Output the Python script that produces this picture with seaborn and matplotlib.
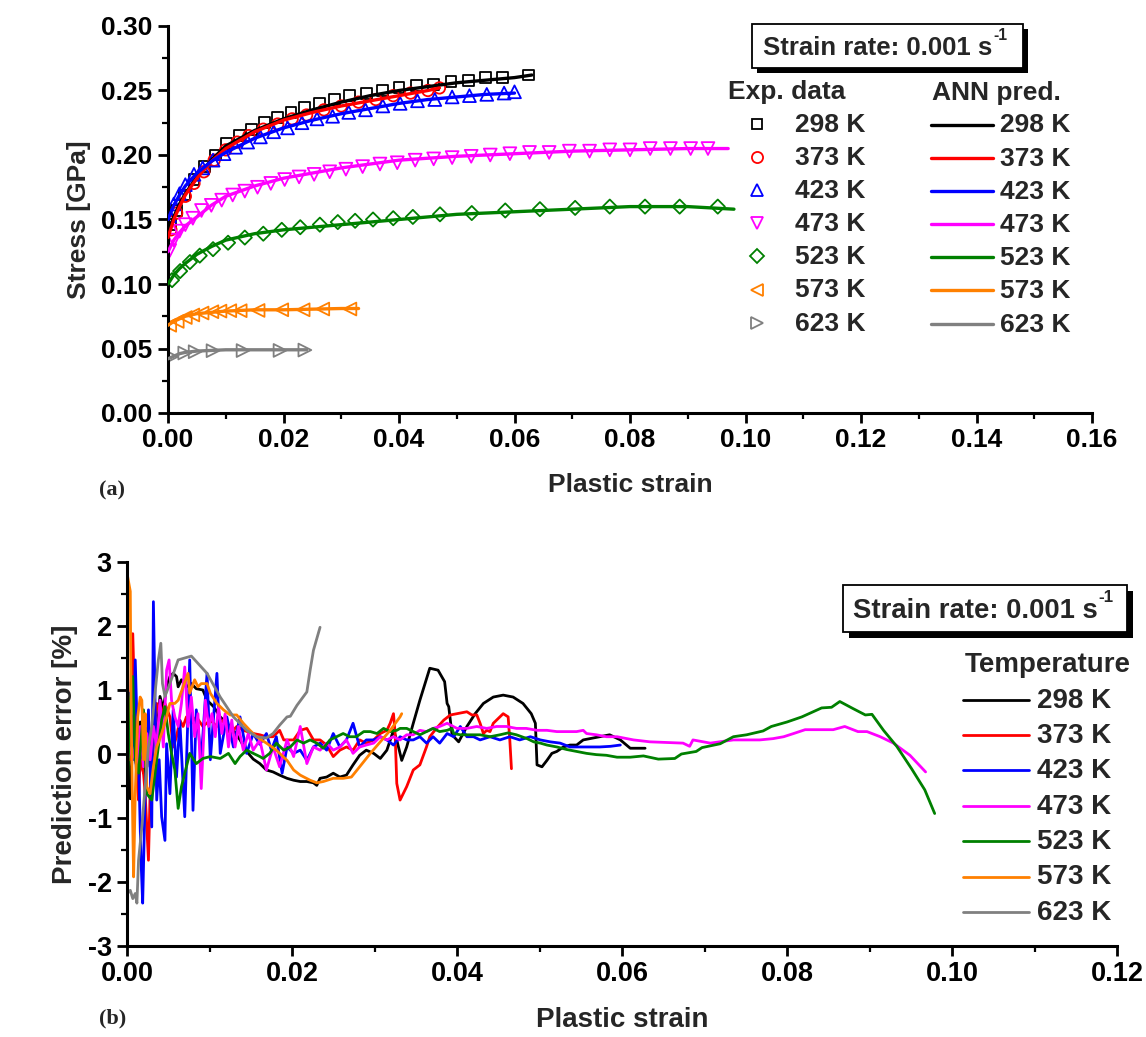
import matplotlib
matplotlib.use("Agg")
import matplotlib.pyplot as plt
import numpy as np
import pandas as pd
import seaborn as sns
from matplotlib.lines import Line2D
from matplotlib.patches import Rectangle
from matplotlib.text import Annotation
from matplotlib.ticker import MultipleLocator, FormatStrFormatter

# ---------------------------------------------------------------- data
temperatures = ["298 K", "373 K", "423 K", "473 K", "523 K", "573 K", "623 K"]
colors = ["#000000", "#FF0000", "#0000FF", "#FF00FF", "#008000", "#FF8000", "#808080"]
exp_markers = ["s", "o", "^", "v", "D", "<", ">"]

# experimental flow curves (plastic strain, stress in GPa)
exp_strain_298 = [0.0005, 0.0015, 0.0028, 0.0045, 0.0063, 0.0082, 0.0102, 0.0123, 0.0145, 0.0167, 0.0190, 0.0213,
                  0.0237, 0.0262, 0.0288, 0.0315, 0.0343, 0.0372, 0.0400, 0.0430, 0.0460, 0.0490, 0.0520, 0.0550,
                  0.0580, 0.0625]
exp_stress_298 = [0.146, 0.157, 0.169, 0.181, 0.191, 0.200, 0.209, 0.215, 0.220, 0.225, 0.229, 0.233,
                  0.237, 0.240, 0.243, 0.246, 0.248, 0.250, 0.252, 0.254, 0.255, 0.257, 0.258, 0.260,
                  0.260, 0.262]
exp_strain_373 = [0.0005, 0.0015, 0.0030, 0.0045, 0.0062, 0.0080, 0.0100, 0.0120, 0.0140, 0.0165, 0.0190, 0.0215,
                  0.0240, 0.0270, 0.0300, 0.0330, 0.0360, 0.0390, 0.0420, 0.0450, 0.0470]
exp_stress_373 = [0.142, 0.155, 0.168, 0.178, 0.187, 0.196, 0.204, 0.210, 0.215, 0.220, 0.224, 0.228,
                  0.231, 0.235, 0.238, 0.241, 0.243, 0.246, 0.248, 0.250, 0.252]
exp_strain_423 = [0.0003, 0.0010, 0.0020, 0.0030, 0.0045, 0.0060, 0.0078, 0.0097, 0.0117, 0.0138, 0.0160, 0.0183,
                  0.0207, 0.0232, 0.0258, 0.0285, 0.0313, 0.0342, 0.0372, 0.0402, 0.0432, 0.0462, 0.0492, 0.0522,
                  0.0552, 0.0582, 0.0600]
exp_stress_423 = [0.153, 0.162, 0.170, 0.177, 0.185, 0.190, 0.196, 0.201, 0.206, 0.210, 0.214, 0.218,
                  0.221, 0.225, 0.228, 0.230, 0.233, 0.235, 0.238, 0.240, 0.242, 0.243, 0.245, 0.246,
                  0.247, 0.248, 0.249]
exp_strain_473 = [0.0003, 0.0010, 0.0020, 0.0030, 0.0043, 0.0058, 0.0075, 0.0093, 0.0112, 0.0133, 0.0155, 0.0178,
                  0.0202, 0.0227, 0.0253, 0.0280, 0.0308, 0.0337, 0.0367, 0.0397, 0.0428, 0.0460, 0.0492, 0.0525,
                  0.0558, 0.0592, 0.0626, 0.0660, 0.0695, 0.0730, 0.0765, 0.0800, 0.0835, 0.0870, 0.0905, 0.0935]
exp_stress_473 = [0.126, 0.134, 0.141, 0.146, 0.151, 0.157, 0.161, 0.165, 0.169, 0.172, 0.175, 0.178,
                  0.181, 0.183, 0.185, 0.187, 0.189, 0.191, 0.193, 0.194, 0.196, 0.197, 0.198, 0.199,
                  0.200, 0.201, 0.202, 0.202, 0.203, 0.203, 0.204, 0.204, 0.205, 0.205, 0.205, 0.205]
exp_strain_523 = [0.0007, 0.0021, 0.0038, 0.0055, 0.0078, 0.0104, 0.0133, 0.0165, 0.0197, 0.0229, 0.0263, 0.0294,
                  0.0324, 0.0355, 0.0390, 0.0424, 0.0471, 0.0526, 0.0584, 0.0644, 0.0705, 0.0765, 0.0826, 0.0886,
                  0.0952]
exp_stress_523 = [0.103, 0.110, 0.117, 0.122, 0.127, 0.132, 0.136, 0.139, 0.142, 0.144, 0.146, 0.148,
                  0.149, 0.150, 0.151, 0.152, 0.154, 0.155, 0.157, 0.158, 0.159, 0.160, 0.160, 0.160,
                  0.160]
exp_strain_573 = [0.0003, 0.0016, 0.0030, 0.0043, 0.0059, 0.0076, 0.0090, 0.0107, 0.0125, 0.0156, 0.0197, 0.0234,
                  0.0268, 0.0315]
exp_stress_573 = [0.068, 0.071, 0.074, 0.076, 0.0775, 0.0785, 0.079, 0.0793, 0.0793, 0.0795, 0.080, 0.080,
                  0.0806, 0.0806]
exp_strain_623 = [0.0006, 0.0029, 0.0047, 0.0078, 0.0130, 0.0194, 0.0237]
exp_stress_623 = [0.0436, 0.0465, 0.0475, 0.0483, 0.0484, 0.0485, 0.0488]

# ANN predicted flow curves
ann_strain_298 = [0, 0.001, 0.002, 0.003, 0.005, 0.0075, 0.01, 0.015, 0.02, 0.025, 0.03, 0.035, 0.04, 0.045,
                  0.05, 0.055, 0.06, 0.063]
ann_stress_298 = [0.140, 0.152, 0.162, 0.170, 0.183, 0.196, 0.207, 0.219, 0.228, 0.235, 0.241, 0.246, 0.250, 0.253,
                  0.256, 0.258, 0.260, 0.262]
ann_strain_373 = [0, 0.001, 0.002, 0.003, 0.005, 0.0075, 0.01, 0.015, 0.02, 0.025, 0.03, 0.035, 0.04, 0.045, 0.047]
ann_stress_373 = [0.136, 0.150, 0.160, 0.169, 0.182, 0.195, 0.205, 0.218, 0.227, 0.233, 0.238, 0.242, 0.246, 0.250,
                  0.252]
ann_strain_423 = [0, 0.001, 0.002, 0.003, 0.005, 0.0075, 0.01, 0.015, 0.02, 0.025, 0.03, 0.035, 0.04, 0.045, 0.05,
                  0.055, 0.06]
ann_stress_423 = [0.150, 0.161, 0.169, 0.176, 0.186, 0.195, 0.202, 0.213, 0.221, 0.227, 0.232, 0.236, 0.240, 0.243,
                  0.245, 0.247, 0.248]
ann_strain_473 = [0, 0.001, 0.002, 0.003, 0.005, 0.0075, 0.01, 0.015, 0.02, 0.025, 0.03, 0.04, 0.05, 0.06, 0.07,
                  0.08, 0.09, 0.097]
ann_stress_473 = [0.125, 0.134, 0.140, 0.145, 0.152, 0.161, 0.168, 0.176, 0.182, 0.186, 0.190, 0.196, 0.199, 0.201,
                  0.203, 0.204, 0.205, 0.205]
ann_strain_523 = [0, 0.001, 0.002, 0.003, 0.005, 0.0075, 0.01, 0.015, 0.02, 0.03, 0.04, 0.05, 0.06, 0.07, 0.08,
                  0.09, 0.098]
ann_stress_523 = [0.100, 0.107, 0.112, 0.116, 0.123, 0.129, 0.134, 0.139, 0.142, 0.146, 0.150, 0.154, 0.156, 0.158,
                  0.160, 0.160, 0.158]
ann_strain_573 = [0, 0.001, 0.002, 0.003, 0.005, 0.0075, 0.01, 0.015, 0.02, 0.025, 0.03, 0.033]
ann_stress_573 = [0.068, 0.071, 0.073, 0.075, 0.077, 0.078, 0.079, 0.080, 0.080, 0.0805, 0.081, 0.081]
ann_strain_623 = [0, 0.001, 0.002, 0.003, 0.005, 0.0075, 0.01, 0.015, 0.02, 0.024]
ann_stress_623 = [0.042, 0.044, 0.046, 0.047, 0.048, 0.0485, 0.049, 0.049, 0.049, 0.049]

# prediction error (plastic strain, error in %)
error_298 = [(0.00004, 0.30), (0.0004, -0.70), (0.0008, 0.60), (0.0012, -0.40), (0.0016, 0.50), (0.0020, -0.30),
             (0.0024, 0.40), (0.0028, -0.20), (0.0032, 0.60), (0.0036, 0.30), (0.0040, 0.90), (0.0044, 0.70),
             (0.0048, 1.05), (0.0052, 1.21), (0.0056, 1.26), (0.0060, 1.21), (0.0062, 1.05), (0.0066, 1.16),
             (0.0072, 1.05), (0.0078, 1.10), (0.0084, 1.02), (0.0092, 1.00), (0.0097, 0.84), (0.0105, 0.74),
             (0.0113, 0.58), (0.0121, 0.48), (0.0129, 0.37), (0.0137, 0.22), (0.0145, 0.04), (0.0153, -0.08),
             (0.0161, -0.15), (0.0169, -0.25), (0.0177, -0.28), (0.0185, -0.33), (0.0194, -0.38), (0.0202, -0.41),
             (0.0210, -0.43), (0.0218, -0.43), (0.0226, -0.45), (0.0230, -0.49), (0.0234, -0.38), (0.0242, -0.36),
             (0.0250, -0.30), (0.0258, -0.36), (0.0266, -0.33), (0.0274, -0.17), (0.0282, -0.02), (0.0290, 0.06),
             (0.0299, 0.01), (0.0307, -0.07), (0.0315, 0.06), (0.0323, 0.37), (0.0327, 0.22), (0.0333, -0.10),
             (0.0339, 0.11), (0.0347, 0.48), (0.0355, 0.84), (0.0367, 1.34), (0.0377, 1.31), (0.0385, 1.13),
             (0.0388, 0.79), (0.0390, 0.74), (0.0394, 0.30), (0.0402, 0.19), (0.0412, 0.43), (0.0422, 0.63),
             (0.0432, 0.79), (0.0444, 0.89), (0.0456, 0.92), (0.0468, 0.89), (0.0480, 0.79), (0.0490, 0.63),
             (0.0495, 0.48), (0.0497, -0.17), (0.0503, -0.20), (0.0509, -0.10), (0.0515, 0.01), (0.0521, 0.04),
             (0.0529, 0.11), (0.0537, 0.14), (0.0545, 0.14), (0.0553, 0.22), (0.0561, 0.24), (0.0573, 0.27),
             (0.0585, 0.30), (0.0598, 0.22), (0.0610, 0.09), (0.0614, 0.09), (0.0628, 0.09)]
error_373 = [(0.00004, 1.47), (0.00036, -0.09), (0.0007, 1.88), (0.0010, 0.43), (0.0012, -0.36), (0.0014, -0.72),
             (0.0016, -0.09), (0.0020, -0.30), (0.0022, -0.62), (0.0026, -1.66), (0.0028, -0.62), (0.0032, 0.22),
             (0.0036, 0.79), (0.0042, 0.58), (0.0046, 0.79), (0.0052, 0.58), (0.0056, 0.11), (0.0060, 0.27),
             (0.0064, 0.53), (0.0068, 0.43), (0.0072, 0.58), (0.0078, 0.48), (0.0084, 0.58), (0.0092, 0.43),
             (0.0101, 0.53), (0.0109, 0.43), (0.0117, 0.53), (0.0125, 0.32), (0.0133, 0.43), (0.0141, 0.37),
             (0.0153, 0.32), (0.0161, 0.30), (0.0169, 0.27), (0.0177, 0.27), (0.0185, 0.37), (0.0190, 0.22),
             (0.0194, 0.22), (0.0202, 0.22), (0.0210, 0.37), (0.0218, 0.40), (0.0226, 0.22), (0.0234, 0.22),
             (0.0242, 0.14), (0.0250, -0.04), (0.0258, 0.06), (0.0266, 0.11), (0.0274, 0.06), (0.0282, 0.22),
             (0.0290, 0.17), (0.0299, 0.22), (0.0307, 0.32), (0.0315, 0.37), (0.0319, 0.48), (0.0323, 0.63),
             (0.0325, 0.32), (0.0327, -0.46), (0.0331, -0.72), (0.0339, -0.51), (0.0347, -0.25), (0.0355, -0.17),
             (0.0363, 0.11), (0.0367, 0.27), (0.0375, 0.40), (0.0384, 0.53), (0.0392, 0.61), (0.0400, 0.63),
             (0.0412, 0.66), (0.0418, 0.61), (0.0424, 0.61), (0.0428, 0.48), (0.0432, 0.32), (0.0436, 0.37),
             (0.0440, 0.35), (0.0444, 0.48), (0.0448, 0.53), (0.0456, 0.63), (0.0462, 0.58), (0.0464, 0.22),
             (0.0466, -0.23)]
error_423 = [(0.00004, 0.16), (0.00036, 0.95), (0.0007, -0.09), (0.0010, 1.47), (0.0012, 0.53), (0.0014, -0.09),
             (0.0017, -1.66), (0.0019, -2.33), (0.0022, -0.62), (0.0026, 0.69), (0.0030, -1.14), (0.0032, 2.38),
             (0.0036, -0.72), (0.0039, -0.09), (0.0042, -0.98), (0.0046, -1.35), (0.0048, 0.16), (0.0052, -0.62),
             (0.0056, 0.69), (0.0060, -0.36), (0.0064, 0.53), (0.0070, -0.98), (0.0076, 1.47), (0.0080, -0.88),
             (0.0084, 0.69), (0.0090, -0.09), (0.0097, 1.26), (0.0101, -0.09), (0.0109, 1.26), (0.0113, 0.01),
             (0.0121, 0.58), (0.0129, 0.11), (0.0137, 0.58), (0.0145, 0.01), (0.0153, 0.32), (0.0161, 0.15),
             (0.0169, 0.32), (0.0175, 0.06), (0.0181, 0.27), (0.0188, -0.30), (0.0194, 0.11), (0.0202, 0.01),
             (0.0210, 0.06), (0.0218, -0.10), (0.0226, 0.11), (0.0234, 0.17), (0.0242, 0.06), (0.0250, 0.32),
             (0.0258, 0.11), (0.0266, 0.22), (0.0274, 0.48), (0.0282, 0.11), (0.0290, 0.22), (0.0299, 0.22),
             (0.0307, 0.27), (0.0315, 0.22), (0.0323, 0.14), (0.0331, 0.27), (0.0339, 0.22), (0.0347, 0.22),
             (0.0355, 0.27), (0.0363, 0.17), (0.0371, 0.27), (0.0379, 0.17), (0.0388, 0.32), (0.0396, 0.27),
             (0.0404, 0.43), (0.0412, 0.27), (0.0420, 0.27), (0.0428, 0.22), (0.0440, 0.27), (0.0452, 0.22),
             (0.0464, 0.27), (0.0476, 0.22), (0.0489, 0.27), (0.0501, 0.22), (0.0513, 0.19), (0.0525, 0.17),
             (0.0537, 0.11), (0.0549, 0.11), (0.0561, 0.11), (0.0573, 0.11), (0.0586, 0.12), (0.0598, 0.14)]
error_473 = [(0.00004, -0.09), (0.0006, 0.11), (0.0012, -0.20), (0.0016, 0.43), (0.0020, -0.20), (0.0024, 0.32),
             (0.0028, -0.09), (0.0032, 0.43), (0.0036, 0.11), (0.0040, 0.84), (0.0044, 0.11), (0.0048, 1.31),
             (0.0051, 1.47), (0.0054, 0.84), (0.0058, 0.58), (0.0062, 0.43), (0.0066, 0.79), (0.0070, 1.36),
             (0.0074, 0.43), (0.0078, 0.89), (0.0082, 0.27), (0.0086, 0.63), (0.0090, -0.54), (0.0095, 0.84),
             (0.0099, 0.43), (0.0103, 0.63), (0.0107, 0.27), (0.0111, 0.74), (0.0115, 0.32), (0.0119, 0.63),
             (0.0123, 0.11), (0.0127, 0.53), (0.0131, 0.11), (0.0135, 0.43), (0.0141, 0.06), (0.0147, 0.32),
             (0.0153, 0.06), (0.0161, 0.22), (0.0169, -0.25), (0.0177, 0.11), (0.0185, -0.20), (0.0194, 0.22),
             (0.0202, -0.04), (0.0210, 0.43), (0.0218, -0.15), (0.0226, 0.11), (0.0234, 0.06), (0.0242, 0.17),
             (0.0250, 0.06), (0.0258, 0.11), (0.0266, 0.22), (0.0274, 0.01), (0.0282, 0.11), (0.0290, 0.14),
             (0.0299, 0.17), (0.0307, 0.27), (0.0315, 0.22), (0.0323, 0.27), (0.0331, 0.22), (0.0339, 0.30),
             (0.0347, 0.30), (0.0355, 0.37), (0.0363, 0.35), (0.0371, 0.40), (0.0379, 0.43), (0.0388, 0.48),
             (0.0400, 0.40), (0.0412, 0.40), (0.0424, 0.43), (0.0436, 0.40), (0.0448, 0.43), (0.0460, 0.43),
             (0.0472, 0.40), (0.0484, 0.40), (0.0497, 0.37), (0.0509, 0.37), (0.0521, 0.35), (0.0533, 0.35),
             (0.0545, 0.35), (0.0553, 0.37), (0.0557, 0.32), (0.0569, 0.30), (0.0581, 0.27), (0.0594, 0.27),
             (0.0606, 0.24), (0.0614, 0.22), (0.0634, 0.19), (0.0654, 0.18), (0.0674, 0.17), (0.0682, 0.12),
             (0.0686, 0.22), (0.0707, 0.17), (0.0735, 0.22), (0.0767, 0.22), (0.0783, 0.24), (0.0796, 0.27),
             (0.0808, 0.32), (0.0822, 0.38), (0.0836, 0.38), (0.0856, 0.38), (0.0870, 0.43), (0.0886, 0.35),
             (0.0897, 0.35), (0.0913, 0.27), (0.0929, 0.17), (0.0949, -0.02), (0.0968, -0.28)]
error_523 = [(0.00004, -0.56), (0.0004, 0.84), (0.0007, 1.21), (0.0010, -0.09), (0.0014, -0.30), (0.0020, 0.69),
             (0.0024, -0.62), (0.0030, -0.72), (0.0036, -0.09), (0.0042, 0.53), (0.0046, 0.74), (0.0050, 0.32),
             (0.0054, 0.01), (0.0058, -0.25), (0.0062, -0.85), (0.0066, -0.51), (0.0072, -0.20), (0.0076, 0.01),
             (0.0084, -0.15), (0.0092, -0.07), (0.0101, -0.04), (0.0113, -0.07), (0.0123, 0.01), (0.0131, -0.15),
             (0.0137, -0.04), (0.0145, 0.06), (0.0153, 0.01), (0.0161, -0.04), (0.0165, -0.07), (0.0173, 0.01),
             (0.0181, 0.17), (0.0190, 0.06), (0.0198, 0.11), (0.0206, 0.22), (0.0214, 0.17), (0.0222, 0.22),
             (0.0230, 0.17), (0.0238, 0.09), (0.0246, 0.22), (0.0254, 0.27), (0.0262, 0.32), (0.0270, 0.27),
             (0.0278, 0.27), (0.0287, 0.35), (0.0295, 0.35), (0.0303, 0.32), (0.0311, 0.40), (0.0319, 0.35),
             (0.0327, 0.37), (0.0331, 0.40), (0.0339, 0.40), (0.0347, 0.35), (0.0355, 0.30), (0.0363, 0.35),
             (0.0371, 0.40), (0.0379, 0.35), (0.0388, 0.37), (0.0394, 0.40), (0.0396, 0.32), (0.0404, 0.30),
             (0.0416, 0.30), (0.0428, 0.30), (0.0440, 0.27), (0.0452, 0.30), (0.0462, 0.33), (0.0472, 0.30),
             (0.0485, 0.24), (0.0493, 0.19), (0.0501, 0.17), (0.0509, 0.14), (0.0521, 0.11), (0.0533, 0.07),
             (0.0545, 0.04), (0.0557, 0.01), (0.0569, -0.01), (0.0581, -0.02), (0.0594, -0.05), (0.0610, -0.05),
             (0.0626, -0.03), (0.0644, -0.08), (0.0664, -0.07), (0.0672, 0.00), (0.0690, 0.04), (0.0697, 0.10),
             (0.0719, 0.16), (0.0735, 0.27), (0.0751, 0.30), (0.0771, 0.36), (0.0781, 0.43), (0.0800, 0.50),
             (0.0818, 0.58), (0.0842, 0.72), (0.0854, 0.73), (0.0864, 0.82), (0.0880, 0.71), (0.0895, 0.61),
             (0.0903, 0.62), (0.0917, 0.37), (0.0933, 0.12), (0.0951, -0.23), (0.0967, -0.56), (0.0979, -0.93)]
error_573 = [(0.00004, 2.80), (0.0004, 2.54), (0.0005, 0.69), (0.0007, -1.14), (0.0008, -1.92), (0.0010, -0.62),
             (0.0013, 0.58), (0.0016, 0.89), (0.0018, 0.84), (0.0020, -0.09), (0.0022, 0.63), (0.0024, -0.51),
             (0.0028, -0.62), (0.0032, -0.20), (0.0036, 0.11), (0.0042, 0.32), (0.0048, 0.58), (0.0052, 0.79),
             (0.0058, 0.79), (0.0062, 0.84), (0.0068, 1.05), (0.0074, 1.26), (0.0076, 0.95), (0.0082, 1.16),
             (0.0086, 1.05), (0.0090, 1.10), (0.0097, 1.10), (0.0101, 0.95), (0.0109, 0.79), (0.0117, 0.69),
             (0.0125, 0.61), (0.0133, 0.61), (0.0141, 0.48), (0.0149, 0.37), (0.0157, 0.27), (0.0169, 0.17),
             (0.0181, 0.06), (0.0194, -0.10), (0.0202, -0.25), (0.0210, -0.33), (0.0222, -0.41), (0.0230, -0.45),
             (0.0238, -0.43), (0.0250, -0.38), (0.0262, -0.38), (0.0272, -0.36), (0.0282, -0.20), (0.0295, 0.01),
             (0.0307, 0.19), (0.0319, 0.37), (0.0331, 0.58), (0.0333, 0.63)]
error_623 = [(0.00004, -2.18), (0.0004, -2.13), (0.0007, -2.26), (0.0010, -2.18), (0.0012, -2.33), (0.0014, -1.66),
             (0.0018, -1.14), (0.0022, -0.51), (0.0026, 0.11), (0.0030, 0.43), (0.0034, 0.95), (0.0038, 1.47),
             (0.0041, 1.73), (0.0043, 1.10), (0.0046, 0.90), (0.0052, 1.10), (0.0062, 1.47), (0.0078, 1.53),
             (0.0097, 1.26), (0.0113, 0.89), (0.0129, 0.58), (0.0145, 0.37), (0.0157, 0.27), (0.0169, 0.25),
             (0.0177, 0.32), (0.0185, 0.45), (0.0194, 0.58), (0.0198, 0.59), (0.0206, 0.76), (0.0218, 0.97),
             (0.0222, 1.31), (0.0226, 1.62), (0.0234, 1.98)]

exp_strain = [exp_strain_298, exp_strain_373, exp_strain_423, exp_strain_473, exp_strain_523, exp_strain_573, exp_strain_623]
exp_stress = [exp_stress_298, exp_stress_373, exp_stress_423, exp_stress_473, exp_stress_523, exp_stress_573, exp_stress_623]
ann_strain = [ann_strain_298, ann_strain_373, ann_strain_423, ann_strain_473, ann_strain_523, ann_strain_573, ann_strain_623]
ann_stress = [ann_stress_298, ann_stress_373, ann_stress_423, ann_stress_473, ann_stress_523, ann_stress_573, ann_stress_623]
errors = [error_298, error_373, error_423, error_473, error_523, error_573, error_623]

# ---------------------------------------------------------------- tables
ann_df = pd.concat([pd.DataFrame({"strain": s, "stress": y, "T": t})
                    for s, y, t in zip(ann_strain, ann_stress, temperatures)], ignore_index=True)
err_df = pd.concat([pd.DataFrame({"strain": [p[0] for p in e], "error": [p[1] for p in e], "T": t})
                    for e, t in zip(errors, temperatures)], ignore_index=True)
palette = dict(zip(temperatures, colors))

# ---------------------------------------------------------------- style
sns.set_theme(style="ticks")
plt.rcParams["font.family"] = ["Liberation Sans", "DejaVu Sans"]
plt.rcParams["font.weight"] = "bold"
plt.rcParams["axes.unicode_minus"] = False
plt.rcParams["axes.linewidth"] = 2.2

W, H = 1146, 1037
fig = plt.figure(figsize=(W / 100, H / 100), dpi=100)


def fx(px):
    return px / W


def fy(py):
    return 1 - py / H


ax1 = fig.add_axes([fx(168), fy(413), (1092 - 168) / W, (413 - 26) / H])
ax2 = fig.add_axes([fx(127), fy(946), (1117 - 127) / W, (946 - 562) / H])

# ---------------------------------------------------------------- (a) stress-strain
sizes = {"s": 62, "o": 68, "^": 85, "v": 85, "D": 52, "<": 85, ">": 85}
for s, y, t, c, m in zip(exp_strain, exp_stress, temperatures, colors, exp_markers):
    sns.scatterplot(x=s, y=y, ax=ax1, marker=m, s=sizes[m], color=c, facecolor="none",
                    edgecolor=c, linewidth=1.3, zorder=2)
sns.lineplot(data=ann_df, x="strain", y="stress", hue="T", palette=palette, sort=False,
             estimator=None, linewidth=2.4, legend=False, ax=ax1, zorder=3)

ax1.set_xlim(0, 0.16)
ax1.set_ylim(0, 0.30)
ax1.xaxis.set_major_locator(MultipleLocator(0.02))
ax1.xaxis.set_minor_locator(MultipleLocator(0.01))
ax1.yaxis.set_major_locator(MultipleLocator(0.05))
ax1.yaxis.set_minor_locator(MultipleLocator(0.025))
ax1.xaxis.set_major_formatter(FormatStrFormatter("%.2f"))
ax1.yaxis.set_major_formatter(FormatStrFormatter("%.2f"))
ax1.set_xlabel("Plastic strain", fontsize=19, fontweight="bold")
ax1.set_ylabel("Stress [GPa]", fontsize=19, fontweight="bold")
ax1.xaxis.set_label_coords(0.5, -0.155)
ax1.yaxis.set_label_coords(-0.083, 0.5)

# ---------------------------------------------------------------- (b) prediction error
sns.lineplot(data=err_df, x="strain", y="error", hue="T", palette=palette, sort=False,
             estimator=None, linewidth=2.0, legend=False, ax=ax2)
ax2.set_xlim(0, 0.12)
ax2.set_ylim(-3, 3)
ax2.xaxis.set_major_locator(MultipleLocator(0.02))
ax2.xaxis.set_minor_locator(MultipleLocator(0.01))
ax2.yaxis.set_major_locator(MultipleLocator(1))
ax2.yaxis.set_minor_locator(MultipleLocator(0.5))
ax2.xaxis.set_major_formatter(FormatStrFormatter("%.2f"))
ax2.yaxis.set_major_formatter(FormatStrFormatter("%d"))
ax2.set_xlabel("Plastic strain", fontsize=20, fontweight="bold")
ax2.set_ylabel("Prediction error [%]", fontsize=20, fontweight="bold")
ax2.xaxis.set_label_coords(0.5, -0.16)
ax2.yaxis.set_label_coords(-0.05, 0.5)

for ax, fs in ((ax1, 19), (ax2, 19.5)):
    sns.despine(ax=ax)
    for sp in ("left", "bottom"):
        ax.spines[sp].set_linewidth(2.2)
        ax.spines[sp].set_color("black")
    ax.tick_params(which="major", direction="out", length=7, width=2.0, labelsize=fs,
                   colors="black", pad=4)
    ax.tick_params(which="minor", direction="out", length=4, width=1.6, colors="black")
    for lab in ax.get_xticklabels() + ax.get_yticklabels():
        lab.set_fontweight("bold")
    ax.set_facecolor("white")


# ---------------------------------------------------------------- annotations and keys
def rate_box(x0, y0, x1, y1, off, text_left, fs):
    fig.add_artist(Rectangle((fx(x0 + off), fy(y1 + off)), (x1 - x0) / W, (y1 - y0) / H,
                             transform=fig.transFigure, facecolor="black", edgecolor="black", lw=0))
    fig.add_artist(Rectangle((fx(x0), fy(y1)), (x1 - x0) / W, (y1 - y0) / H,
                             transform=fig.transFigure, facecolor="white", edgecolor="black", lw=1.3))
    main = fig.text(fx(text_left), fy((y0 + y1) / 2 + 2), "Strain rate: 0.001 s", ha="left",
                    va="center", fontsize=fs, fontweight="bold")
    fig.add_artist(Annotation("-1", xy=(1.0, 0.72), xycoords=main, xytext=(0.5, 0),
                              textcoords="offset points", ha="left", va="bottom",
                              fontsize=fs * 0.62, fontweight="bold"))


rate_box(752, 24, 1023, 68, 5, 763, 18.5)
rate_box(843, 585, 1127, 632, 6, 853, 19.8)

# key of panel (a)
TOP_FS = 19
fig.text(fx(728), fy(92), "Exp. data", ha="left", va="center", fontsize=TOP_FS, fontweight="bold")
fig.text(fx(932), fy(93), "ANN pred.", ha="left", va="center", fontsize=TOP_FS, fontweight="bold")
msz = {"s": 7.5, "o": 8, "^": 9, "v": 9, "D": 7, "<": 9, ">": 9}
for i, (t, c, m) in enumerate(zip(temperatures, colors, exp_markers)):
    yy = 123.5 + 33.2 * i
    fig.add_artist(Line2D([fx(757)], [fy(yy)], marker=m, markersize=msz[m], markerfacecolor="none",
                          markeredgecolor=c, markeredgewidth=1.3, linestyle="none",
                          transform=fig.transFigure))
    fig.text(fx(795), fy(yy + 1), t, ha="left", va="center", fontsize=TOP_FS, fontweight="bold")
    fig.add_artist(Line2D([fx(931), fx(993)], [fy(yy + 1), fy(yy + 1)], color=c, lw=2.4,
                          transform=fig.transFigure))
    fig.text(fx(1000), fy(yy + 2), t, ha="left", va="center", fontsize=TOP_FS, fontweight="bold")

# key of panel (b)
BOT_FS = 20
fig.text(fx(965), fy(665), "Temperature", ha="left", va="center", fontsize=BOT_FS, fontweight="bold")
for i, (t, c) in enumerate(zip(temperatures, colors)):
    yy = 699.5 + 35.4 * i
    fig.add_artist(Line2D([fx(963), fx(1029)], [fy(yy), fy(yy)], color=c, lw=2.0,
                          transform=fig.transFigure))
    fig.text(fx(1037), fy(yy + 1), t, ha="left", va="center", fontsize=BOT_FS, fontweight="bold")

# panel tags
fig.text(fx(99), fy(490), "(a)", ha="left", va="center", fontsize=16, fontweight="bold",
         family=["Liberation Serif", "DejaVu Serif"])
fig.text(fx(99), fy(1018), "(b)", ha="left", va="center", fontsize=16, fontweight="bold",
         family=["Liberation Serif", "DejaVu Serif"])

fig.savefig("out.png", dpi=100, facecolor="white")
